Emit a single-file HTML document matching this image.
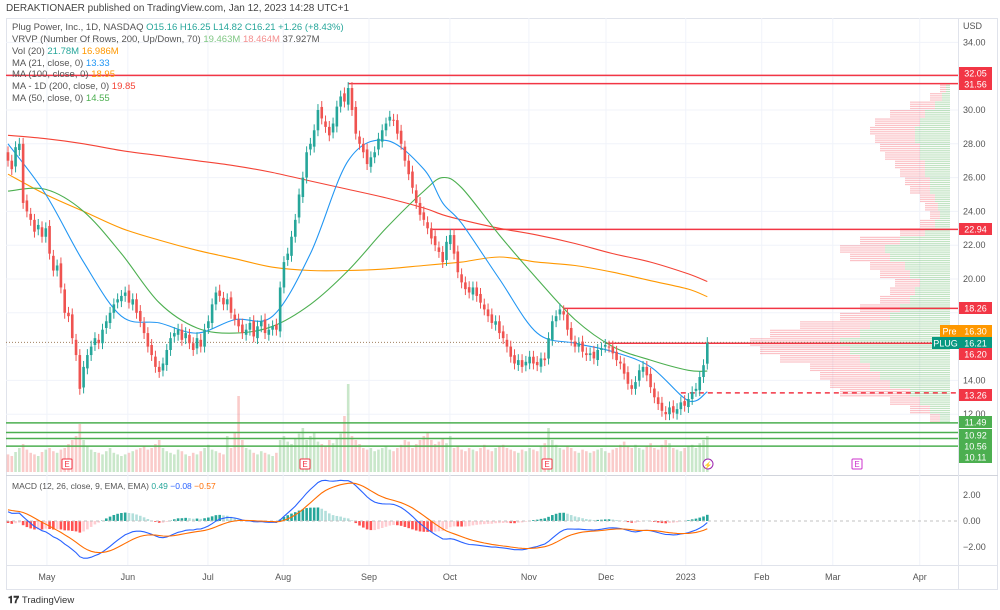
<!DOCTYPE html>
<html><head><meta charset="utf-8">
<style>
body{margin:0;width:1000px;height:610px;background:#fff;font-family:"Liberation Sans",sans-serif;overflow:hidden}
svg{display:block}
</style></head>
<body>
<svg id="c" width="1000" height="610" xmlns="http://www.w3.org/2000/svg" font-family="Liberation Sans, sans-serif">
<text x="6" y="11" font-size="10" fill="#444">DERAKTIONAER published on TradingView.com, Jan 12, 2023 14:28 UTC+1</text>
<rect x="6.5" y="18.5" width="991" height="571" fill="none" stroke="#e0e3eb"/>
<line x1="6" y1="475.5" x2="998" y2="475.5" stroke="#d1d4dc"/>
<line x1="958.5" y1="18" x2="958.5" y2="589" stroke="#e0e3eb"/>
<line x1="6" y1="565.5" x2="998" y2="565.5" stroke="#e0e3eb"/>
<g id="grid"></g>
<g id="vp"></g>
<g id="vol"></g>
<g id="hlines"></g>
<g id="ma"></g>
<g id="candles"></g>
<g id="macd"></g>
<g id="axis"></g>
<g id="legend" font-size="9.5" fill="#555">
<text x="12" y="30">Plug Power, Inc., 1D, NASDAQ <tspan fill="#26a69a">O15.16 H16.25 L14.82 C16.21 +1.26 (+8.43%)</tspan></text>
<text x="12" y="42">VRVP (Number Of Rows, 200, Up/Down, 70) <tspan fill="#81c784">19.463M</tspan> <tspan fill="#f48f8f">18.464M</tspan> 37.927M</text>
<text x="12" y="54">Vol (20) <tspan fill="#26a69a">21.78M</tspan> <tspan fill="#ff9800">16.986M</tspan></text>
<text x="12" y="66">MA (21, close, 0) <tspan fill="#2196f3">13.33</tspan></text>
<text x="12" y="77">MA (100, close, 0) <tspan fill="#ff9800">18.95</tspan></text>
<text x="12" y="89">MA - 1D (200, close, 0) <tspan fill="#f44336">19.85</tspan></text>
<text x="12" y="101">MA (50, close, 0) <tspan fill="#4caf50">14.55</tspan></text>
<text x="12" y="489" font-size="8.5">MACD (12, 26, close, 9, EMA, EMA) <tspan fill="#26a69a">0.49</tspan> <tspan fill="#2962ff">−0.08</tspan> <tspan fill="#ff6d00">−0.57</tspan></text>
</g>
<text x="8" y="603" font-size="10" font-weight="bold" fill="#333">𝟏𝟕 <tspan font-weight="normal" font-size="9.5">TradingView</tspan></text>
</svg>
<script>
const closes=[27,26.5,27.8,28,24.5,24,23.5,22.8,23.2,22.5,
23,21.5,20.5,20.8,19.5,18,17.8,16.5,15.5,13.5,
14.8,15.5,16,16.5,16.2,17,17.5,18,18.5,18.8,
19,19.2,18.6,18.8,18,17.5,16.8,16,15.5,14.8,
14.5,15,15.8,16.5,16.8,17,16.4,16.8,16.2,15.8,
16.5,16,17,17.5,18.5,19.2,19,18.5,18.8,18,
17.6,17.2,16.8,17,17.4,16.6,17.2,17.5,16.8,17,
17.2,17,19.5,21,21.5,22.5,23.5,25,26,27.5,
28,28.8,30,29.5,29,28.5,29.2,30.2,30.8,30.5,
31.3,30,28.6,28,27.5,26.8,27.2,27.5,28.3,28.8,
29.2,29.6,29.4,28.6,28,27,26.2,25.4,24.5,23.8,
23.5,23,22.4,22,21.6,21,22.2,22.6,21.5,20.4,
19.8,19.4,19.2,19.5,19,18.6,18.2,17.8,17.4,17.5,
16.8,16.5,16,15.4,15,15.2,14.8,15.1,15.4,15,
14.9,15.3,15.2,16.5,17.5,17.8,18.2,17.9,17,16.4,
16,16.2,15.7,15.5,15.6,15.3,15.8,15.9,16.1,16,
15.6,15.2,15,14.4,13.8,13.5,13.9,14.6,14.8,14.3,
13.6,13,12.6,12.2,12,12.4,12.1,12.3,12.7,12.5,
12.9,13.3,13.5,14.2,14.9,16.21];
const volumes=[22,20,25,30,35,28,24,22,20,25,28,30,26,24,28,30,35,40,45,60,
40,32,28,25,24,22,26,30,24,22,20,22,24,26,28,30,32,28,30,35,
40,30,26,24,22,28,26,22,20,24,22,26,30,34,28,26,24,22,45,30,
50,95,40,30,28,24,22,26,24,22,20,24,40,45,38,35,42,48,55,40,
45,50,38,35,32,40,36,42,48,70,110,45,40,35,30,28,30,26,28,30,
32,28,26,30,34,40,38,30,35,40,45,50,40,35,38,42,36,45,30,32,
28,26,30,28,26,30,34,28,26,30,32,34,30,28,26,24,28,26,30,28,
26,32,36,55,40,34,30,28,32,30,26,24,28,26,24,26,28,30,26,24,
28,30,34,38,32,30,34,30,28,32,36,30,28,34,40,36,30,28,26,30,
32,34,30,36,40,45];
const maIdx=[0,10,20,30,40,50,60,70,80,90,100,110,115,120,130,140,150,160,170,180,185];
const ma21=[28,25,21,17.8,17.4,16.8,17.6,17.8,21.5,27,28.2,26.5,24.5,23.3,20,16.8,16.2,15.7,14.8,12.8,13.33];
const ma50=[25.2,25.3,24,21.5,18.6,17.1,16.8,17.2,18.5,20.5,23,25.2,26,25.4,22.6,20,17.6,16,15.2,14.6,14.55];
const ma100=[26.2,25,24,23,22.3,21.7,21.2,20.7,20.5,20.5,20.6,20.8,20.9,21,21.3,21,20.8,20.4,19.9,19.4,18.95];
const ma200=[28.5,28.3,28,27.6,27.3,27,26.7,26.3,25.8,25.3,24.8,24.2,23.8,23.5,23,22.6,22.1,21.5,21,20.3,19.85];
const vpPrices=[11.5,12,12.5,13,13.5,14,14.5,15,15.5,16,16.5,17,17.5,18,18.5,19,19.5,20,20.5,21,21.5,22,22.5,23,23.5,24,24.5,25,25.5,26,26.5,27,27.5,28,28.5,29,29.5,30,30.5,31];
const vpTotal=[20,40,60,110,120,130,140,170,190,200,180,150,110,90,70,60,55,70,80,100,110,90,50,30,20,25,30,40,45,50,55,65,70,75,80,75,60,40,20,10];
const vpUp=[10,20,30,40,60,70,80,90,100,110,90,80,60,50,40,35,30,40,45,60,65,50,25,15,10,12,15,20,20,25,25,30,30,35,35,30,25,15,8,4];
const priceTicks=[34,30,28,26,24,22,20,14,12];
const monthLabels=["May","Jun","Jul","Aug","Sep","Oct","Nov","Dec","2023","Feb","Mar","Apr"];
const monthIdx=[10.3,31.7,52.9,72.8,95.5,116.9,137.8,158.2,179.3,199.4,218.2,241.2];
const levelsRed=[[32.05,0],[31.56,90],[22.94,112],[18.26,147],[16.20,158]];
const levelsGreen=[11.49,10.92,10.56,10.11];
const dashedLevel=13.26;
const macdTicks=[2,0,-2];
const emaSeed12=27.4, emaSeed26=26.6, sigSeed=0.9;

const NS="http://www.w3.org/2000/svg";
const X=i=>8+i*3.78, Y=p=>110+(30-p)*16.9, MY=v=>521-v*13, VB=472;
function el(t,a,p){const e=document.createElementNS(NS,t);for(const k in a)e.setAttribute(k,a[k]);document.getElementById(p).appendChild(e);return e;}
const PR=958;
monthIdx.forEach((m,k)=>{const g=el('line',{x1:X(m),x2:X(m),y1:18,y2:565,stroke:'#f0f3fa'},'grid');

});
[34,32,30,28,26,24,22,20,18,16,14,12].forEach(p=>{const g=el('line',{x1:6,x2:PR,y1:Y(p),y2:Y(p),stroke:'#f0f3fa'},'grid');

});
// volume profile (striped rows)
vpPrices.forEach((p,k)=>{const y0=Y(p+0.5), h=Y(p)-Y(p+0.5);
for(let s=0;s<4;s++){const y=y0+s*h/4;
const u=el('rect',{x:950-vpUp[k],y:y,width:vpUp[k],height:h/4-0.9,fill:'#4caf50','fill-opacity':0.35},'vp');


const d=el('rect',{x:950-vpTotal[k],y:y,width:vpTotal[k]-vpUp[k],height:h/4-0.9,fill:'#f23645','fill-opacity':0.3},'vp');

}});
closes.forEach((c,i)=>{const o=i?closes[i-1]*(1+(i%3-1)*0.006):c+0.5;const up=c>=o;
const col=up?'#26a69a':'#ef5350';const x=X(i);
const hi=Math.max(o,c)+0.35, lo=Math.min(o,c)-0.35;
const w=el('line',{x1:x,x2:x,y1:Y(hi),y2:Y(lo),stroke:col,'stroke-width':1},'candles');


const b=el('rect',{x:x-1.3,y:Y(Math.max(o,c)),width:2.6,height:Math.max(1,Math.abs(Y(o)-Y(c))),fill:col},'candles');


const h=volumes[i]*0.8;
const v=el('rect',{x:x-1.3,y:VB-h,width:2.6,height:h,fill:up?'#4caf50':'#ef5350','fill-opacity':0.3},'vol');

});
function maLine(arr,col,name){const pts=arr.map((v,k)=>[X(maIdx[k]),Y(v)]);
let d='M'+pts[0][0].toFixed(1)+','+pts[0][1].toFixed(1);
for(let k=1;k<pts.length;k++){const p0=pts[k-2]||pts[k-1],p1=pts[k-1],p2=pts[k],p3=pts[k+1]||pts[k];
const c1=[p1[0]+(p2[0]-p0[0])/6,p1[1]+(p2[1]-p0[1])/6],c2=[p2[0]-(p3[0]-p1[0])/6,p2[1]-(p3[1]-p1[1])/6];
d+='C'+c1.map(n=>n.toFixed(1))+' '+c2.map(n=>n.toFixed(1))+' '+p2.map(n=>n.toFixed(1));}
const p=el('path',{d:d,fill:'none',stroke:col,'stroke-width':1.1,'stroke-linejoin':'round'},'ma');

}
maLine(ma200,'#f44336','ma200-line');maLine(ma100,'#ff9800','ma100-line');maLine(ma50,'#4caf50','ma50-line');maLine(ma21,'#2196f3','ma21-line');
levelsRed.forEach(([p,i])=>{const l=el('line',{x1:i?X(i):6,x2:PR,y1:Y(p),y2:Y(p),stroke:'#f23645','stroke-width':1.5},'hlines');

});
levelsGreen.forEach(p=>{const l=el('line',{x1:6,x2:PR,y1:Y(p),y2:Y(p),stroke:'#4caf50','stroke-width':1.5},'hlines');

});
{const l=el('line',{x1:X(178),x2:PR,y1:Y(dashedLevel),y2:Y(dashedLevel),stroke:'#f23645','stroke-width':1.5,'stroke-dasharray':'5,4'},'hlines');

}
{const l=el('line',{x1:6,x2:PR,y1:Y(16.25),y2:Y(16.25),stroke:'#a08060','stroke-width':1,'stroke-dasharray':'1,2'},'hlines');

}
function ema(a,n,seed){const k=2/(n+1);let e=seed;return a.map(v=>e=v*k+e*(1-k));}
const e12=ema(closes,12,emaSeed12),e26=ema(closes,26,emaSeed26);const macd=e12.map((v,i)=>v-e26[i]);const sig=ema(macd,9,sigSeed);
macd.forEach((m,i)=>{const h=m-sig[i];const prev=i?macd[i-1]-sig[i-1]:0;
const col=h>=0?(h>=prev?'#26a69a':'#b2dfdb'):(h<prev?'#ff5252':'#ffcdd2');
const r=el('rect',{x:X(i)-1.3,y:Math.min(MY(h),MY(0)),width:2.6,height:Math.abs(MY(h)-MY(0)),fill:col},'macd');

});
{const z=el('line',{x1:6,x2:PR,y1:MY(0),y2:MY(0),stroke:'#c0c0c0','stroke-dasharray':'3,3'},'macd');

}
function mline(a,col,name){const p=el('path',{d:a.map((v,i)=>(i?'L':'M')+X(i).toFixed(1)+','+MY(v).toFixed(1)).join(''),fill:'none',stroke:col,'stroke-width':1.1},'macd');

}
mline(macd,'#2962ff','macd-line');mline(sig,'#ff6d00','signal-line');
function txt(x,y,s,a,g){const t=el('text',a,g);t.setAttribute('x',x);t.setAttribute('y',y);t.textContent=s;return t;}
{const t=txt(963,29,'USD',{'font-size':9,fill:'#555'},'axis');}
priceTicks.forEach(p=>{const t=txt(963,Y(p)+3,p.toFixed(2),{'font-size':9,fill:'#555'},'axis');

});
macdTicks.forEach(v=>{const t=txt(963,MY(v)+3,(v<0?'−':'')+Math.abs(v).toFixed(2),{'font-size':9,fill:'#555'},'axis');

});
monthLabels.forEach((m,k)=>{const t=txt(X(monthIdx[k]),580,m,{'font-size':9,fill:'#555','text-anchor':'middle'},'axis');

});
const boxes=[[73,'32.05','#f23645'],[84,'31.56','#f23645'],[229,'22.94','#f23645'],[308,'18.26','#f23645'],[331,'16.30','#ff9800'],[343,'16.21','#089981'],[354,'16.20','#f23645'],[395,'13.26','#f23645'],[422,'11.49','#4caf50'],[435,'10.92','#4caf50'],[446,'10.56','#4caf50'],[457,'10.11','#4caf50']];
boxes.forEach(([y,s,c])=>{const r=el('rect',{x:959,y:y-6,width:33,height:12,fill:c},'axis');


const t=txt(975.5,y+3.5,s,{'font-size':9,fill:'#fff','text-anchor':'middle'},'axis');

});
{const r=el('rect',{x:940,y:325,width:19,height:12,fill:'#ff9800'},'axis');
const t=txt(949.5,334.5,'Pre',{'font-size':9,fill:'#fff','text-anchor':'middle'},'axis');}
{const r=el('rect',{x:932,y:337,width:27,height:12,fill:'#089981'},'axis');
const t=txt(945.5,346.5,'PLUG',{'font-size':9,fill:'#fff','text-anchor':'middle'},'axis');}
[[67,'#f23645'],[305,'#f23645'],[547,'#f23645'],[857,'#cc33cc']].forEach(([x,c])=>{const r=el('rect',{x:x-5,y:459,width:10,height:10,fill:'#fff',stroke:c,rx:1},'axis');


const t=txt(x,467,'E',{'font-size':8,fill:c,'text-anchor':'middle'},'axis');

});
{const c=el('circle',{cx:708,cy:464,r:5,fill:'#fff',stroke:'#9c27b0'},'axis');
const t=txt(708,467.5,'⚡',{'font-size':7,fill:'#9c27b0','text-anchor':'middle'},'axis');}
</script>
</body></html>
